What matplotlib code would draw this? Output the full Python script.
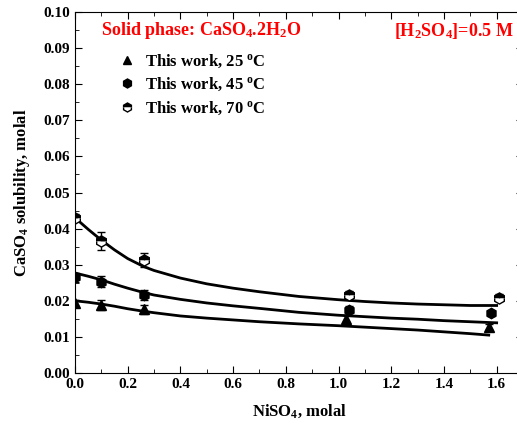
import numpy as np
import matplotlib
matplotlib.use("Agg")
import matplotlib.pyplot as plt
from matplotlib.lines import Line2D

plt.rcParams['font.family'] = 'Liberation Serif'
plt.rcParams['font.weight'] = 'bold'
plt.rcParams['mathtext.fontset'] = 'custom'
plt.rcParams['mathtext.rm'] = 'Liberation Serif:bold'
plt.rcParams['mathtext.bf'] = 'Liberation Serif:bold'
plt.rcParams['mathtext.it'] = 'Liberation Serif:bold'

# measured points
x25 = [0.0, 0.10, 0.26, 1.03, 1.57]
y25 = [0.0193, 0.0188, 0.0176, 0.0150, 0.0128]
e25 = [0.0008, 0.0013, 0.0012, 0.0010, 0.0008]

x45 = [0.0, 0.10, 0.26, 1.04, 1.58]
y45 = [0.0265, 0.0253, 0.0216, 0.0175, 0.0165]
e45 = [0.0012, 0.0016, 0.0014, 0.0010, 0.0008]

x70 = [0.0, 0.10, 0.26, 1.04, 1.61]
y70 = [0.0430, 0.0366, 0.0313, 0.0216, 0.0209]
e70 = [0.0010, 0.0025, 0.0020, 0.0012, 0.0010]

# model curves
fx = [0.0, 0.05, 0.1, 0.15, 0.2, 0.26, 0.3, 0.4, 0.5, 0.6, 0.7, 0.85, 1.0, 1.1, 1.2, 1.3, 1.4, 1.5, 1.6]
f70 = [0.0430, 0.0398, 0.0368, 0.0341, 0.0317, 0.0295, 0.0284, 0.0263, 0.0247, 0.0235, 0.0225,
       0.0212, 0.0203, 0.0198, 0.0194, 0.0191, 0.0189, 0.0187, 0.0187]
f45 = [0.0277, 0.0268, 0.0258, 0.0246, 0.0235, 0.0223, 0.0216, 0.0204, 0.0194, 0.0186, 0.0179,
       0.0168, 0.0160, 0.0156, 0.0152, 0.0149, 0.0145, 0.0142, 0.0139]
fx25 = [0.0, 0.05, 0.1, 0.15, 0.2, 0.26, 0.3, 0.4, 0.5, 0.6, 0.7, 0.85, 1.0, 1.1, 1.2, 1.3, 1.4, 1.5, 1.57]
f25 = [0.0200, 0.0196, 0.0191, 0.0185, 0.0178, 0.0171, 0.0167, 0.0158, 0.0152, 0.0147, 0.0142,
       0.0136, 0.0131, 0.0127, 0.0123, 0.0119, 0.0114, 0.0109, 0.0105]

fig = plt.figure(figsize=(5.17, 4.28), dpi=100)
ax = fig.add_axes([75 / 517, 55 / 428, 448 / 517, 361 / 428])

ax.plot(fx, f70, color='black', lw=2)
ax.plot(fx, f45, color='black', lw=2)
ax.plot(fx25, f25, color='black', lw=2)

eb = dict(fmt='none', ecolor='black', capsize=3, elinewidth=1, capthick=1)
ax.errorbar(x25, y25, yerr=e25, **eb)
ax.errorbar(x45, y45, yerr=e45, **eb)
ax.errorbar(x70, y70, yerr=e70, **eb)

m25 = dict(marker='^', ls='none', color='black', ms=6.5)
m45 = dict(marker='h', ls='none', color='black', ms=7.5)
m70 = dict(marker='h', ls='none', ms=8, fillstyle='top', markerfacecolor='black',
           markerfacecoloralt='white', markeredgecolor='black', mew=1.0)
ax.plot(x25, y25, **m25)
ax.plot(x45, y45, **m45)
ax.plot(x70, y70, **m70)

ax.set_xlim(0, 1.7)
ax.set_ylim(0, 0.10)
ax.set_xticks(np.arange(0, 1.61, 0.2))
ax.set_xticks(np.arange(0, 1.71, 0.1), minor=True)
ax.set_yticks(np.arange(0, 0.101, 0.01))
ax.set_yticks(np.arange(0, 0.101, 0.005), minor=True)
ax.tick_params(which='both', direction='in', top=True, right=True, labelsize=11)
ax.tick_params(which='major', length=5)
ax.tick_params(which='minor', length=3)
ax.xaxis.set_major_formatter(matplotlib.ticker.FormatStrFormatter('%.1f'))
ax.yaxis.set_major_formatter(matplotlib.ticker.FormatStrFormatter('%.2f'))
for lab in ax.get_xticklabels() + ax.get_yticklabels():
    lab.set_fontweight('bold')

ax.set_xlabel(r'NiSO$_4$, molal', fontsize=12, fontweight='bold', labelpad=8)
ax.set_ylabel(r'CaSO$_4$ solubility, molal', fontsize=12, fontweight='bold', labelpad=8)

ax.text(0.10, 0.0948, r'Solid phase: CaSO$_4$.2H$_2$O', color='red', fontsize=13,
        fontweight='bold', va='center')
ax.text(1.665, 0.0948, r'[H$_2$SO$_4$]=0.5 M', color='red', fontsize=13,
        fontweight='bold', va='center', ha='right')

handles = [Line2D([], [], ms=6, **{k: v for k, v in m25.items() if k != 'ms'}),
           Line2D([], [], ms=6.5, **{k: v for k, v in m45.items() if k != 'ms'}),
           Line2D([], [], ms=6.5, **{k: v for k, v in m70.items() if k != 'ms'})]
labels = [r'This work, 25 $^{\mathrm{o}}$C', r'This work, 45 $^{\mathrm{o}}$C',
          r'This work, 70 $^{\mathrm{o}}$C']
ax.legend(handles, labels, loc='upper left', bbox_to_anchor=(0.06, 0.93), frameon=False,
          fontsize=12, handletextpad=0.5, labelspacing=0.38, handlelength=1.2)

fig.savefig('out.png', dpi=100)
